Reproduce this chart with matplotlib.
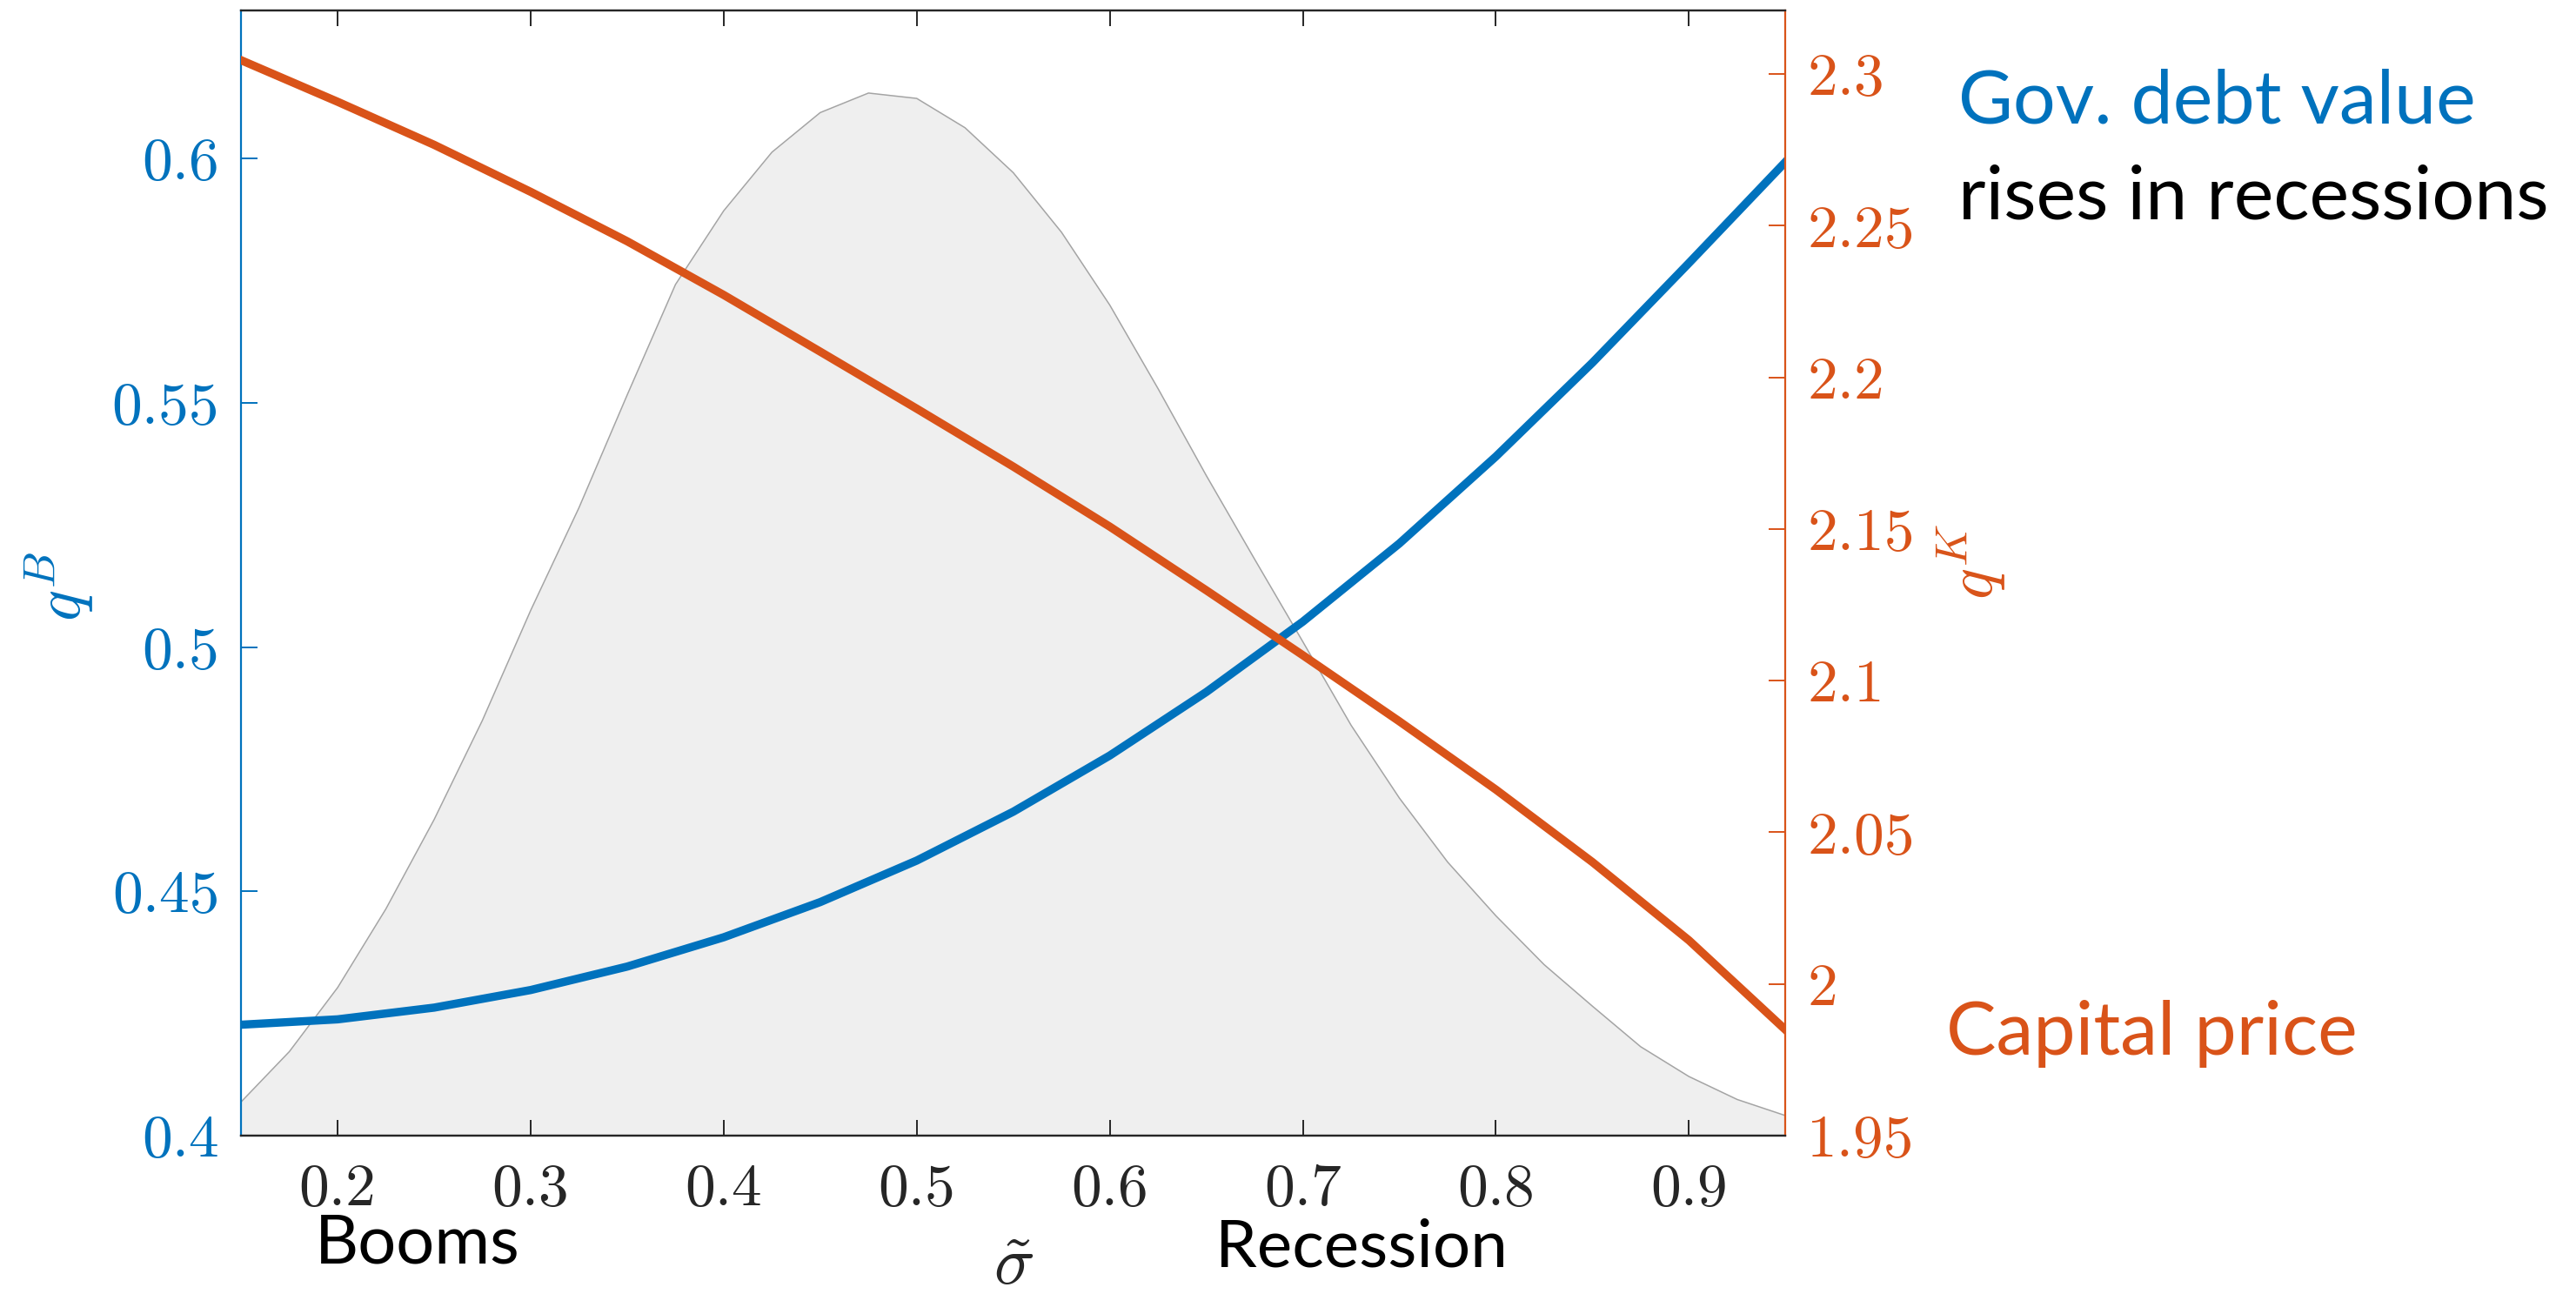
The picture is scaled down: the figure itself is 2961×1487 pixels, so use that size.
import matplotlib.pyplot as plt

sigma = [0.15, 0.2, 0.25, 0.3, 0.35, 0.4, 0.45, 0.5, 0.55, 0.6,
         0.65, 0.7, 0.75, 0.8, 0.85, 0.9, 0.95]
q_bond = [0.4227, 0.4238, 0.4262, 0.4298, 0.4346, 0.4406, 0.4478, 0.4563, 0.4663, 0.4778,
          0.4908, 0.5052, 0.5212, 0.5390, 0.5582, 0.5786, 0.5993]
q_capital = [2.3046, 2.2909, 2.2767, 2.2612, 2.2449, 2.2272, 2.2085, 2.1897, 2.1706, 2.1508,
             2.1298, 2.1084, 2.0866, 2.0641, 2.0402, 2.0144, 1.9849]

# stationary distribution (background shape), drawn in q^B units
sigma_density = [0.15, 0.175, 0.2, 0.225, 0.25, 0.275, 0.3, 0.325, 0.35, 0.375, 0.4,
                 0.425, 0.45, 0.475, 0.5, 0.525, 0.55, 0.575, 0.6, 0.625, 0.65, 0.675,
                 0.7, 0.725, 0.75, 0.775, 0.8, 0.825, 0.85, 0.875, 0.9, 0.925, 0.95]
density = [0.4069, 0.4172, 0.4303, 0.4464, 0.4647, 0.4850, 0.5075, 0.5285, 0.5516, 0.5742, 0.5893,
           0.6013, 0.6094, 0.6134, 0.6123, 0.6063, 0.5971, 0.5849, 0.5700, 0.5529, 0.5351, 0.5180,
           0.5011, 0.4840, 0.4691, 0.4560, 0.4450, 0.4350, 0.4265, 0.4182, 0.4121, 0.4074, 0.4041]

x_ticks = [0.2, 0.3, 0.4, 0.5, 0.6, 0.7, 0.8, 0.9]
x_tick_labels = ['0.2', '0.3', '0.4', '0.5', '0.6', '0.7', '0.8', '0.9']
qb_ticks = [0.4, 0.45, 0.5, 0.55, 0.6]
qb_tick_labels = ['0.4', '0.45', '0.5', '0.55', '0.6']
qk_ticks = [1.95, 2.0, 2.05, 2.1, 2.15, 2.2, 2.25, 2.3]
qk_tick_labels = ['1.95', '2', '2.05', '2.1', '2.15', '2.2', '2.25', '2.3']

BLUE = '#0072BD'
ORANGE = '#D95319'
DARK = '#262626'
TXT_FONT = 'Lato'

plt.rcParams['mathtext.fontset'] = 'cm'

fig = plt.figure(figsize=(29.61, 14.87), dpi=100)
ax = fig.add_axes([0.0936, 0.1224, 0.5995, 0.8695])

ax.fill_between(sigma_density, 0.4, density, color='#efefef', lw=0)
ax.plot(sigma_density, density, color='#a4a4a4', lw=1.1)
ax.plot(sigma, q_bond, color=BLUE, lw=6.8)
ax.set_xlim(0.15, 0.95)
ax.set_ylim(0.4, 0.6303)

ax2 = ax.twinx()
ax2.plot(sigma, q_capital, color=ORANGE, lw=6.8)
ax2.set_ylim(1.95, 2.321)

# ticks, MATLAB style (inward, box on)
ax.set_xticks(x_ticks)
ax.set_xticklabels(x_tick_labels, fontfamily='cmr10', fontsize=50)
ax.tick_params(axis='x', direction='in', length=13, width=1.4, colors=DARK,
               top=True, pad=23)
ax.set_yticks(qb_ticks)
ax.set_yticklabels(qb_tick_labels, fontfamily='cmr10', fontsize=50)
ax.tick_params(axis='y', direction='in', length=14, width=1.4, colors=BLUE, pad=18)
ax2.set_yticks(qk_ticks)
ax2.set_yticklabels(qk_tick_labels, fontfamily='cmr10', fontsize=50)
ax2.tick_params(axis='y', direction='in', length=14, width=1.4, colors=ORANGE, pad=18)

for a in (ax, ax2):
    a.spines['top'].set_color(DARK)
    a.spines['bottom'].set_color(DARK)
    for s in a.spines.values():
        s.set_linewidth(1.6)
ax.spines['left'].set_color(BLUE)
ax.spines['right'].set_visible(False)
ax2.spines['left'].set_visible(False)
ax2.spines['right'].set_color(ORANGE)

ax.set_xlabel(r'$\tilde{\sigma}$', fontsize=56, color=DARK)
ax.xaxis.set_label_coords(0.5, -0.115)
ax.xaxis.label.set_verticalalignment('center')
ax.set_ylabel(r'$q^B$', fontsize=54, color=BLUE)
ax.yaxis.set_label_coords(-0.1178, 0.488)
ax.yaxis.label.set_verticalalignment('center')
ax2.set_ylabel(r'$q^K$', fontsize=54, color=ORANGE, rotation=90)
ax2.yaxis.set_label_coords(1.1206, 0.51)
ax2.yaxis.label.set_verticalalignment('center')

# annotations, placed in figure pixels
W, H = 2961, 1487
def note(px, py, s, color, size):
    fig.text(px / W, 1 - py / H, s, color=color, fontsize=size,
             fontfamily=TXT_FONT, ha='left', va='baseline')

note(2251, 142, 'Gov. debt value', BLUE, 62)
note(2251, 251, 'rises in recessions', 'black', 62)
note(2237, 1212, 'Capital price', ORANGE, 62)
note(362, 1452, 'Booms', 'black', 56)
note(1397, 1456, 'Recession', 'black', 55)

fig.savefig('out.png', dpi=100)
